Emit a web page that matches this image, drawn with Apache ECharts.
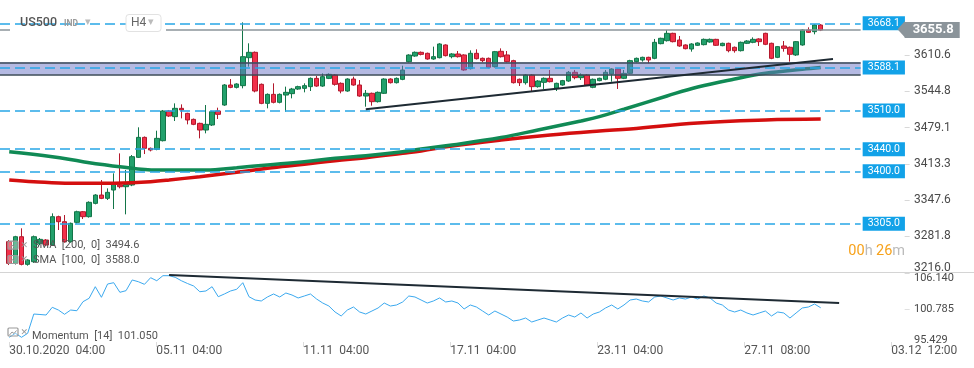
<!DOCTYPE html>
<html><head><meta charset="utf-8">
<script src="https://cdn.jsdelivr.net/npm/echarts@6/dist/echarts.min.js"></script>
<style>html,body{margin:0;padding:0;background:#fff}#c{width:974px;height:368px}</style>
</head><body><div id="c"></div>
<script>
// ---- DATA ----
const opens=[3272.4,3233.1,3281.4,3231.3,3236.1,3269.4,3275.4,3266.3,3317.7,3308.6,3272.4,3307.4,3326.7,3317.7,3341.8,3356.9,3350.9,3366.0,3375.1,3372.0,3375.1,3425.2,3461.4,3441.5,3439.7,3455.4,3509.2,3498.9,3514.0,3504.9,3494.0,3486.8,3474.7,3483.8,3509.2,3520.0,3556.3,3552.0,3555.1,3605.8,3615.5,3557.5,3523.0,3539.3,3524.9,3538.1,3540.6,3549.0,3550.2,3553.3,3568.3,3554.4,3568.3,3574.4,3559.3,3545.4,3567.1,3556.3,3536.3,3541.2,3526.1,3541.2,3567.1,3560.5,3566.5,3598.5,3608.8,3615.5,3613.7,3603.4,3605.8,3628.8,3607.6,3612.5,3610.7,3585.9,3613.7,3604.6,3604.6,3589.5,3617.3,3610.7,3600.4,3566.6,3560.5,3574.4,3553.3,3561.1,3568.4,3550.3,3556.3,3563.5,3579.3,3569.6,3574.4,3552.1,3564.2,3566.6,3576.2,3585.3,3568.4,3577.4,3598.6,3601.6,3606.4,3604.6,3631.2,3636.6,3649.9,3637.8,3628.8,3621.5,3628.2,3629.4,3634.2,3639.0,3627.6,3631.8,3624.6,3618.5,3631.8,3633.6,3639.7,3649.9,3631.8,3606.4,3627.0,3624.6,3610.7,3628.8,3656.0,3652.9,3665.0];
const closes=[3233.1,3281.4,3231.3,3239.2,3281.4,3276.6,3266.3,3317.7,3308.6,3272.4,3305.6,3326.7,3317.7,3343.7,3356.9,3350.9,3361.8,3378.1,3372.0,3376.0,3426.4,3461.4,3441.5,3438.5,3459.6,3509.2,3500.1,3514.0,3511.0,3492.9,3485.0,3474.7,3485.0,3507.9,3503.1,3556.3,3552.0,3558.1,3607.6,3615.5,3545.4,3523.0,3539.3,3524.9,3539.3,3543.0,3549.0,3553.3,3555.1,3568.3,3554.4,3571.4,3575.6,3557.5,3545.4,3567.1,3556.3,3536.3,3541.2,3526.1,3543.0,3567.1,3560.5,3568.3,3583.4,3610.6,3615.5,3611.8,3603.4,3607.6,3630.6,3609.5,3612.5,3607.6,3583.5,3613.7,3604.0,3600.4,3588.3,3616.7,3607.6,3598.6,3560.5,3560.5,3574.4,3553.3,3563.5,3568.4,3562.3,3559.3,3564.2,3579.3,3569.6,3574.4,3556.3,3566.6,3568.4,3579.3,3585.3,3568.4,3577.4,3600.4,3604.6,3606.4,3601.6,3633.6,3640.9,3649.9,3634.8,3627.0,3622.1,3630.6,3632.4,3639.0,3639.0,3628.2,3631.8,3618.5,3618.5,3633.6,3636.0,3639.0,3634.8,3630.0,3604.6,3625.8,3622.7,3611.9,3634.8,3656.0,3651.7,3665.0,3655.8];
const lows=[3230.1,3231.0,3229.5,3228.9,3234.0,3266.0,3264.5,3265.0,3293.5,3270.5,3270.5,3305.5,3313.5,3316.0,3340.0,3349.5,3347.9,3331.6,3369.0,3321.9,3373.0,3424.0,3431.2,3436.0,3438.0,3454.0,3498.5,3491.0,3495.8,3485.0,3483.5,3459.6,3468.7,3482.0,3494.7,3518.5,3550.5,3550.0,3550.2,3589.5,3543.0,3521.5,3514.0,3523.0,3523.0,3507.9,3532.1,3547.5,3543.0,3545.4,3553.0,3553.0,3567.0,3555.1,3541.2,3544.0,3555.0,3535.0,3517.0,3518.8,3524.5,3540.0,3559.0,3559.0,3565.0,3597.0,3607.5,3610.0,3602.0,3602.0,3604.5,3608.0,3604.6,3606.0,3582.0,3584.5,3602.5,3597.5,3586.5,3588.0,3606.0,3597.0,3559.0,3554.5,3557.0,3545.4,3551.5,3549.1,3561.0,3545.4,3555.0,3562.0,3566.6,3565.4,3555.0,3550.5,3563.0,3565.0,3562.3,3549.1,3567.0,3576.0,3597.0,3598.6,3595.6,3603.0,3630.0,3635.0,3633.5,3625.5,3620.9,3616.7,3627.0,3628.0,3633.0,3627.0,3626.5,3615.5,3614.9,3617.0,3630.5,3632.0,3627.0,3628.5,3603.0,3605.0,3616.7,3598.6,3609.0,3627.5,3650.5,3648.1,3654.0];
const highs=[3275.4,3283.0,3296.6,3240.5,3283.5,3279.0,3277.0,3323.7,3319.5,3320.7,3307.0,3328.5,3328.0,3345.5,3358.5,3384.1,3369.0,3396.2,3432.4,3402.3,3429.4,3479.6,3463.0,3443.0,3473.5,3511.0,3511.0,3523.0,3521.2,3506.0,3495.5,3488.0,3520.0,3509.5,3515.2,3558.0,3567.1,3559.5,3669.8,3631.8,3617.0,3559.0,3541.0,3559.3,3541.0,3553.3,3551.0,3555.0,3559.3,3570.0,3572.6,3577.4,3577.4,3576.0,3561.0,3568.5,3571.4,3565.3,3547.2,3542.5,3544.5,3568.5,3568.5,3570.0,3591.3,3612.0,3617.0,3617.0,3615.0,3625.8,3632.0,3630.0,3614.0,3617.9,3612.0,3619.1,3620.9,3606.0,3606.0,3618.0,3622.7,3617.9,3602.0,3568.0,3576.0,3576.0,3565.0,3570.0,3583.5,3560.5,3565.5,3581.7,3583.5,3577.4,3576.0,3568.0,3569.5,3583.5,3586.5,3586.5,3583.5,3602.0,3606.0,3607.6,3607.5,3639.7,3642.0,3656.0,3651.0,3645.1,3630.0,3632.0,3633.5,3640.5,3640.5,3640.0,3633.0,3633.0,3626.0,3635.0,3637.5,3642.6,3641.0,3651.0,3633.0,3627.0,3636.0,3626.0,3636.0,3657.5,3660.8,3666.5,3666.5];
const momentum=[95.95,96.64,95.95,96.64,99.97,99.89,99.80,101.13,100.66,99.92,100.66,100.54,102.10,102.69,104.69,102.86,105.15,105.38,103.72,104.00,105.85,105.55,105.10,106.24,105.72,106.59,106.59,106.31,105.72,105.24,104.81,103.82,103.95,104.69,102.96,103.43,103.95,104.24,105.38,102.96,102.39,102.22,102.91,103.43,102.91,103.60,103.25,102.74,103.08,103.43,102.56,101.87,101.35,100.32,99.63,100.66,101.18,100.32,99.97,100.49,101.01,101.87,101.35,101.53,102.05,103.08,102.91,102.39,101.87,102.22,102.74,102.05,102.22,101.87,100.84,101.53,101.18,100.49,99.80,100.49,99.97,99.45,98.76,98.94,99.28,98.59,98.94,99.28,98.94,98.59,99.28,99.80,99.45,100.15,99.28,99.97,100.32,101.01,101.53,100.84,101.53,102.39,102.56,102.22,102.05,102.91,103.08,102.74,102.39,102.74,102.56,102.91,102.56,103.08,102.74,101.87,101.53,100.66,100.32,100.66,100.15,99.80,100.15,100.49,99.63,100.32,100.15,99.28,100.15,101.01,101.18,101.70,101.05];
const sma100Idx=[0,7,12,18,24,32,37,42,48,53,58,64,67,72,80,86,93,96,100,107,112,118,123,129,132];
const sma100Val=[3435.5,3426.4,3417.3,3408.3,3402.3,3402.3,3406.5,3411.4,3417.3,3423.5,3428.2,3435.5,3440.3,3447.6,3461.2,3474.8,3491.1,3498.9,3512.3,3536.4,3552.7,3567.2,3577.5,3584.8,3588.0];
const sma200Idx=[0,4,10,15,20,23,26,31,37,42,48,53,58,64,67,72,80,88,96,101,112,123,132];
const sma200Val=[3384.2,3381.1,3378.2,3378.2,3379.3,3381.1,3384.2,3390.2,3398.1,3405.4,3412.6,3419.1,3424.6,3432.6,3436.7,3445.8,3456.6,3465.7,3472.9,3476.6,3487.5,3492.9,3494.6];
const levels=[3668.1,3588.1,3510.0,3440.0,3400.0,3305.0];
const bandTop=3597.4, bandBottom=3575.0;
const lastPrice=3655.8;
const priceTicks=[3216.0,3281.8,3347.6,3413.3,3479.1,3544.8,3610.6];
const momTicks=[95.429,100.785,106.140];
const xTickIdx=[0,24,48,72,96,120,144];
const xTickLabels=['30.10.2020  04:00','05.11  04:00','11.11  04:00','17.11  04:00','23.11  04:00','27.11  08:00','03.12  12:00'];
const priceTrend=[[58,3512.3],[134,3603.4]];
const momTrend=[[26,106.71],[135,101.87]];
const sma200Last=3494.6, sma100Last=3588.0, momLast=101.050;

// ---- LAYOUT ----
const OFF=1, NCAT=140, NLAB=159, CW=6.163, LEFT=7.08-1.5*CW;
const cats=[...Array(NCAT).keys()].map(String);
const labCats=[...Array(NLAB).keys()].map(i=>{const k=xTickIdx.indexOf(i-OFF);return k>=0?xTickLabels[k]:'';});
const candles=['-'].concat(opens.map((o,i)=>[o,closes[i],lows[i],highs[i]]));
const FONT='Roboto';
const lvlLabel={show:true,position:'end',distance:2,formatter:p=>p.value.toFixed(1),color:'#fff',backgroundColor:'#12a2e8',padding:[2,5,1,5],fontSize:10.5,fontFamily:FONT};
const mlData=levels.map(v=>({yAxis:v,lineStyle:{type:[10,5],color:'#27a6e6',width:1.5},label:lvlLabel}));
mlData.push({yAxis:bandTop,lineStyle:{type:'solid',color:'#3b4a57',width:1.5},label:{show:false}});
mlData.push({yAxis:bandBottom,lineStyle:{type:'solid',color:'#3b4a57',width:1.5},label:{show:false}});
mlData.push({yAxis:lastPrice,lineStyle:{type:'solid',color:'#8b949a',width:1.5},label:{show:true,position:'end',distance:44,formatter:p=>p.value.toFixed(1),color:'#fff',backgroundColor:'#8b949a',padding:[2,6,1,8],fontSize:13,fontWeight:'bold',fontFamily:FONT}});
mlData.push([{coord:[priceTrend[0][0]+OFF,priceTrend[0][1]]},{coord:[priceTrend[1][0]+OFF,priceTrend[1][1]]}]);

function legendIcons(y){
  return [
    {type:'rect',shape:{x:8,y:y-4.5,width:10,height:8,r:1},style:{fill:'rgba(255,255,255,0.3)',stroke:'#9a9a9a',lineWidth:1.2},z:11},
    {type:'polyline',shape:{points:[[9.5,y+2.5],[12,y-0.5],[14,y+1],[16.5,y-2]]},style:{stroke:'#9a9a9a',lineWidth:1,fill:null},z:11},
    {type:'text',x:20.5,y:y,style:{text:'✕',fontSize:9,fontWeight:'bold',fill:'#9a9a9a',fontFamily:'DejaVu Sans',verticalAlign:'middle'},z:11}
  ];
}

const tickShow=(idx,val)=>val!=='';
const chart=echarts.init(document.getElementById('c'),null,{renderer:'canvas'});
chart.setOption({
  animation:false,
  backgroundColor:'#fff',
  textStyle:{fontFamily:FONT},
  grid:[
    {left:LEFT,top:0,width:CW*NCAT,height:272.8},
    {left:LEFT,top:272.8,width:CW*NCAT,height:69.2},
    {left:LEFT,top:341,width:CW*NLAB,height:1}
  ],
  xAxis:[
    {type:'category',gridIndex:0,data:cats,show:false},
    {type:'category',gridIndex:1,data:cats,show:false},
    {type:'category',gridIndex:2,data:labCats,axisLine:{show:false},splitLine:{show:false},
     axisTick:{show:true,alignWithLabel:true,interval:tickShow,length:5,lineStyle:{color:'#dcdcdc'}},
     axisLabel:{interval:tickShow,align:'left',margin:3,fontSize:12,color:'#555',fontFamily:FONT}}
  ],
  yAxis:[
    {type:'value',gridIndex:0,position:'right',offset:44,min:3216.0,max:3710.3,splitLine:{show:false},axisLine:{show:false},
     axisTick:{show:true,length:5,lineStyle:{color:'#d8d8d8'},customValues:priceTicks},
     axisLabel:{customValues:priceTicks,margin:9.3,fontSize:12,color:'#4a4a4a',fontFamily:FONT,
       formatter:v=>Math.abs(v-priceTicks[0])<0.01?'{b|'+v.toFixed(1)+'}':v.toFixed(1),
       rich:{b:{fontSize:12,color:'#4a4a4a',fontFamily:FONT,padding:[0,0,9,0]}}}},
    {type:'value',gridIndex:1,position:'right',offset:44,min:95.138,max:107.089,splitLine:{show:false},axisLine:{show:false},
     axisTick:{show:true,length:5,lineStyle:{color:'#e0e0e0'},customValues:[momTicks[1]]},
     axisLabel:{customValues:momTicks,margin:9.3,fontSize:11,color:'#4a4a4a',fontFamily:FONT,formatter:v=>v.toFixed(3)}},
    {type:'value',gridIndex:2,show:false}
  ],
  series:[
    {type:'candlestick',xAxisIndex:0,yAxisIndex:0,data:candles,barWidth:5,z:2,
     itemStyle:{color:'#22a16c',color0:'#f2304a',borderColor:'#137548',borderColor0:'#b3192d',borderWidth:1},
     markArea:{silent:true,z:4,data:[[{yAxis:bandTop},{yAxis:bandBottom}]],itemStyle:{color:'rgba(105,115,197,0.5)',borderWidth:0}},
     markLine:{silent:true,z:5,symbol:['none','none'],data:mlData,lineStyle:{color:'#1e2a33',width:2,type:'solid'}}
    },
    {type:'line',xAxisIndex:0,yAxisIndex:0,z:3,smooth:0.4,showSymbol:false,
     data:sma200Idx.map((k,i)=>[k+OFF,sma200Val[i]]),lineStyle:{color:'#d40f0f',width:3.5}},
    {type:'line',xAxisIndex:0,yAxisIndex:0,z:3,smooth:0.4,showSymbol:false,
     data:sma100Idx.map((k,i)=>[k+OFF,sma100Val[i]]),lineStyle:{color:'#108a55',width:3.5}},
    {type:'line',xAxisIndex:1,yAxisIndex:1,z:3,showSymbol:false,
     data:momentum.map((v,i)=>[i+OFF,v]),lineStyle:{color:'#3ba9ef',width:1},
     markLine:{silent:true,symbol:['none','none'],label:{show:false},lineStyle:{color:'#1e2a33',width:2,type:'solid'},
       data:[[{coord:[momTrend[0][0]+OFF,momTrend[0][1]]},{coord:[momTrend[1][0]+OFF,momTrend[1][1]]}]]}}
  ],
  graphic:[
    {type:'line',shape:{x1:0,y1:272.5,x2:974,y2:272.5},style:{stroke:'#d4d4d4',lineWidth:1},z:10},
    {type:'rect',shape:{x:10,y:27.6,width:156,height:3.4},style:{fill:'#fff'},z:10},
    {type:'text',x:20,y:23.3,style:{text:'US500',fontSize:12.5,fontWeight:500,fill:'#555',fontFamily:FONT,verticalAlign:'middle'},z:11},
    {type:'text',x:64,y:24.3,style:{text:'IND',fontSize:8.5,fontWeight:'bold',fill:'#999',fontFamily:FONT,verticalAlign:'middle'},z:11},
    {type:'text',x:85,y:22.5,style:{text:'▾',fontSize:11,fill:'#bbb',fontFamily:'DejaVu Sans',verticalAlign:'middle'},z:11},
    {type:'rect',shape:{x:126,y:14.5,width:35,height:17,r:3},style:{fill:'#fff',stroke:'#e2e2e2',lineWidth:1},z:10},
    {type:'text',x:131,y:23.3,style:{text:'H4',fontSize:12,fill:'#666',fontFamily:FONT,verticalAlign:'middle'},z:11},
    {type:'text',x:148,y:22.5,style:{text:'▾',fontSize:11,fill:'#bbb',fontFamily:'DejaVu Sans',verticalAlign:'middle'},z:11},
    {type:'polygon',shape:{points:[[897.5,29.3],[905,21],[905,37.6]]},style:{fill:'#8b949a'},z:10},
    ...legendIcons(245.7),...legendIcons(260),...legendIcons(332.5),
    {type:'text',x:33,y:245.7,style:{text:'SMA  [200,  0]  '+sma200Last.toFixed(1),fontSize:11,fill:'#555',fontFamily:FONT,verticalAlign:'middle'},z:11},
    {type:'text',x:33,y:260,style:{text:'SMA  [100,  0]  '+sma100Last.toFixed(1),fontSize:11,fill:'#555',fontFamily:FONT,verticalAlign:'middle'},z:11},
    {type:'text',x:32,y:336,style:{text:'Momentum  [14]  '+momLast.toFixed(3),fontSize:11,fill:'#555',fontFamily:FONT,verticalAlign:'middle'},z:11},
    {type:'text',x:905,y:251.5,style:{text:'{o|00}{g|h} {o|26}{g|m}',align:'right',verticalAlign:'middle',rich:{o:{fontSize:14.5,fill:'#f7a21b',fontFamily:FONT},g:{fontSize:14.5,fill:'#bbbbbb',fontFamily:FONT}}},z:11}
  ]
});
</script></body></html>
